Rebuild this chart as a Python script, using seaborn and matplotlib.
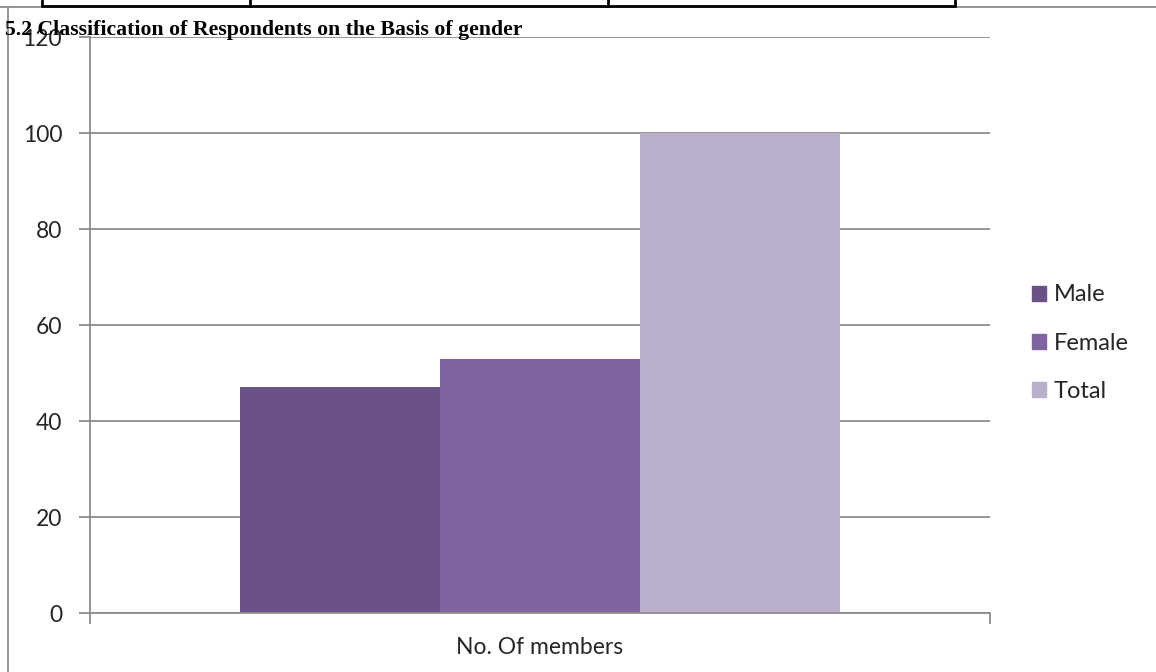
import matplotlib
matplotlib.use("Agg")
import matplotlib.pyplot as plt
from matplotlib.lines import Line2D
import seaborn as sns
import pandas as pd

categories = ["No. Of members"]
series = ["Male", "Female", "Total"]
values = [47, 53, 100]
yticks = [0, 20, 40, 60, 80, 100, 120]
colors = ["#6A5288", "#8064A2", "#BAAFCB"]
title = "5.2 Classification of Respondents on the Basis of gender"

sns.set_theme(style="white")
plt.rcParams["font.family"] = ["Lato", "DejaVu Sans"]

df = pd.DataFrame({"cat": categories * len(series), "series": series, "value": values})

W, H = 1156, 672
fig = plt.figure(figsize=(W / 100, H / 100), dpi=100)
ax = fig.add_axes([90 / W, (H - 613) / H, 900 / W, (613 - 37) / H])

sns.barplot(data=df, x="cat", y="value", hue="series", hue_order=series,
            palette=colors, width=2 / 3, gap=0, saturation=1, ax=ax, legend=False)
for p in ax.patches:
    p.set_edgecolor("none")

ax.set_xlim(-0.5, 0.5)
ax.set_ylim(0, 120)
ax.set_yticks(yticks)
ax.set_yticklabels([str(t) for t in yticks])
ax.yaxis.grid(True, color="#8C8C8C", linewidth=1.3)
ax.set_axisbelow(True)
ax.set_xlabel("")
ax.set_ylabel("")
for s in ["top", "right"]:
    ax.spines[s].set_visible(False)
for s in ["left", "bottom"]:
    ax.spines[s].set_color("#8C8C8C")
    ax.spines[s].set_linewidth(1.3)
ax.tick_params(axis="y", which="major", length=8, color="#8C8C8C", width=1.3,
               labelsize=16.5, pad=12, left=True)
ax.set_xticks([0])
ax.set_xticklabels(categories)
ax.tick_params(axis="x", which="major", length=0, labelsize=16.5, pad=17)
ax.set_xticks([-0.5, 0.5], minor=True)
ax.tick_params(axis="x", which="minor", length=8, color="#8C8C8C", width=1.3, bottom=True)

handles = [plt.Rectangle((0, 0), 1, 1, color=c) for c in colors]
fig.legend(handles, series, loc="center left", bbox_to_anchor=(1011 / W, (H - 343) / H),
           frameon=False, fontsize=17, handlelength=0.6, handleheight=0.6,
           handletextpad=0.3, labelspacing=1.15)

# page decorations (table border remnants)
fig.add_artist(Line2D([0, 1], [(H - 7) / H] * 2, color="#8C8C8C", lw=1.3))
fig.add_artist(Line2D([42 / W, 955 / W], [(H - 6) / H] * 2, color="black", lw=2))
for xv in [42, 250, 608, 955]:
    fig.add_artist(Line2D([xv / W] * 2, [(H - 6) / H, 1], color="black", lw=2))
fig.add_artist(Line2D([8 / W] * 2, [0, (H - 7) / H], color="#8C8C8C", lw=1.3))

fig.text(5 / W, (H - 35) / H, title, family=["Liberation Serif", "DejaVu Serif"],
         weight="bold", fontsize=15.7, ha="left", va="baseline", color="black")

fig.savefig("out.png", dpi=100, facecolor="white")
